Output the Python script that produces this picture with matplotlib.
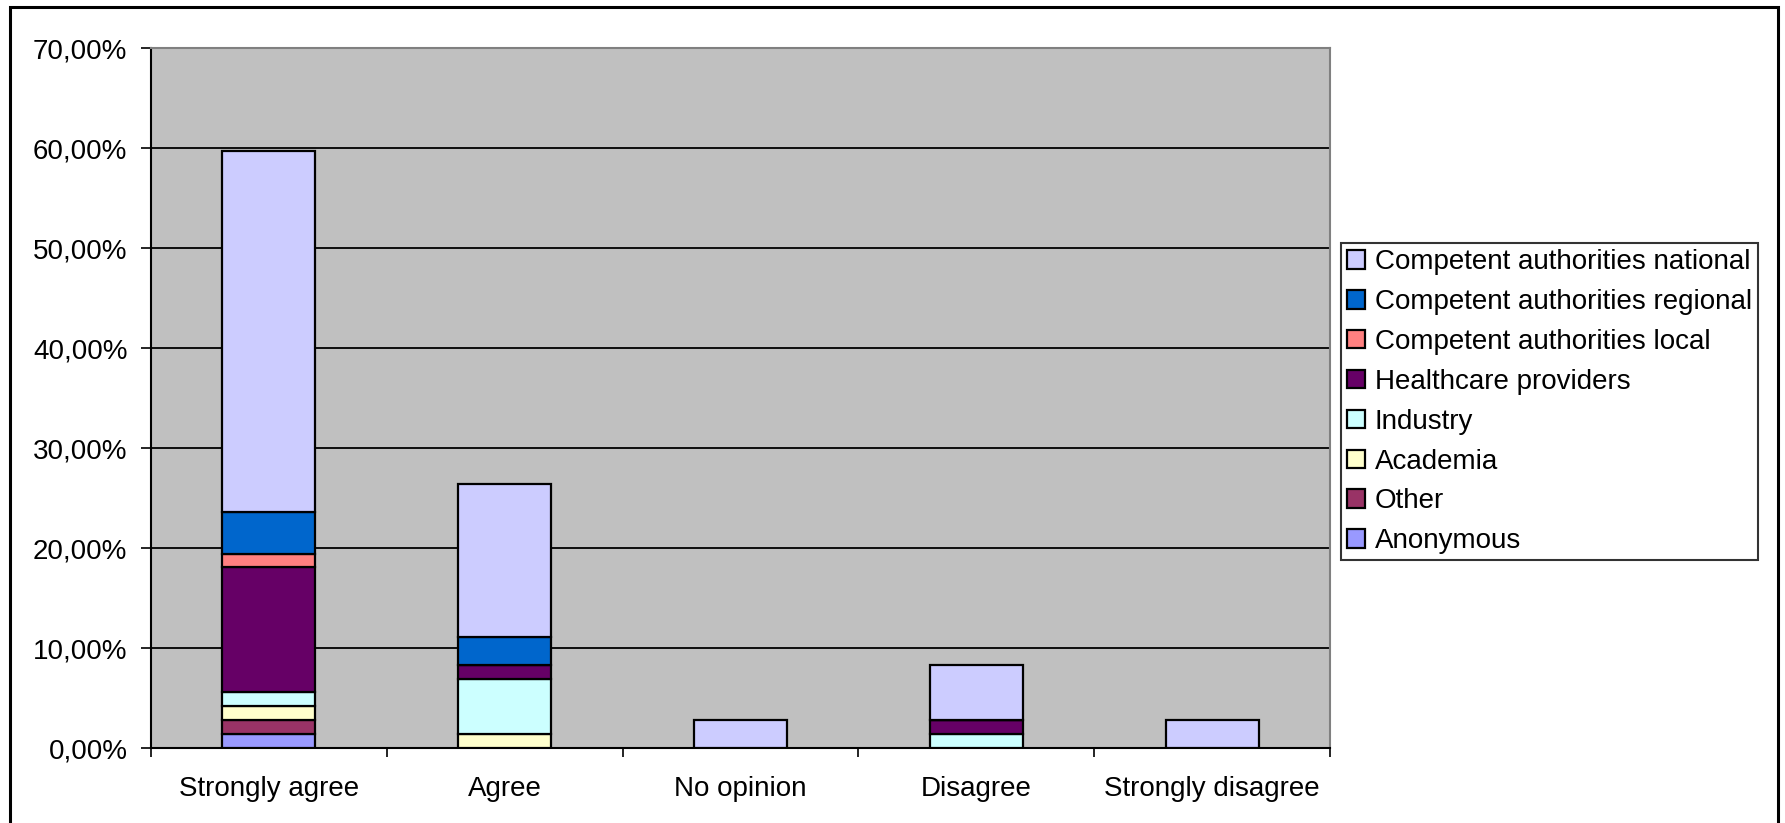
import numpy as np
import matplotlib.pyplot as plt
from matplotlib.patches import Rectangle

plt.rcParams['font.family'] = ['Liberation Sans', 'DejaVu Sans']

categories = ['Strongly agree', 'Agree', 'No opinion', 'Disagree', 'Strongly disagree']

# share of answers (%) per respondent group, bottom of the stack first
anonymous = [1.39, 0.00, 0.00, 0.00, 0.00]
other = [1.39, 0.00, 0.00, 0.00, 0.00]
academia = [1.39, 1.39, 0.00, 0.00, 0.00]
industry = [1.39, 5.56, 0.00, 1.39, 0.00]
healthcare = [12.50, 1.39, 0.00, 1.39, 0.00]
ca_local = [1.39, 0.00, 0.00, 0.00, 0.00]
ca_regional = [4.17, 2.78, 0.00, 0.00, 0.00]
ca_national = [36.11, 15.28, 2.78, 5.56, 2.78]

series = [('Anonymous', anonymous, '#9999FF'),
          ('Other', other, '#993366'),
          ('Academia', academia, '#FFFFCC'),
          ('Industry', industry, '#CCFFFF'),
          ('Healthcare providers', healthcare, '#660066'),
          ('Competent authorities local', ca_local, '#FF8080'),
          ('Competent authorities regional', ca_regional, '#0066CC'),
          ('Competent authorities national', ca_national, '#CCCCFF')]

yticks = [0, 10, 20, 30, 40, 50, 60, 70]

fig = plt.figure(figsize=(17.85, 8.23), dpi=100)
ax = fig.add_axes([151/1785, 75/823, (1330-151)/1785, (748-48)/823])
ax.set_facecolor('#C0C0C0')

x = np.arange(len(categories))
bottom = np.zeros(len(categories))
handles = []
for name, vals, col in series:
    vals = np.array(vals)
    b = ax.bar(x, vals, 0.395, bottom=bottom, color=col, edgecolor='black',
               linewidth=1.6, label=name, zorder=3)
    bottom += vals
    handles.append(b)

ax.set_xlim(-0.5, len(categories) - 0.5)
ax.set_ylim(0, 70)
ax.set_yticks(yticks)
ax.set_yticklabels(['{:.2f}%'.format(v).replace('.', ',') for v in yticks])
ax.yaxis.grid(True, color='black', linewidth=1.3, zorder=1)
ax.set_axisbelow(True)

# ticks between categories, labels centred without ticks
ax.set_xticks(np.arange(-0.5, len(categories), 1.0))
ax.set_xticklabels([])
ax.set_xticks(x, minor=True)
ax.set_xticklabels(categories, minor=True)
ax.tick_params(axis='x', which='major', length=6.5, width=1.2, direction='out')
ax.tick_params(axis='x', which='minor', length=0, pad=20)
ax.tick_params(axis='y', length=7, width=1.2, direction='out', pad=10)
ax.tick_params(which='both', labelsize=20)

for s in ['left', 'bottom']:
    ax.spines[s].set_color('black')
    ax.spines[s].set_linewidth(1.5)
for s in ['top', 'right']:
    ax.spines[s].set_color('#808080')
    ax.spines[s].set_linewidth(1.5)

leg = fig.legend(handles[::-1], [s[0] for s in series][::-1],
                 loc='upper left', bbox_to_anchor=(1341/1785, 1 - 243/823),
                 fontsize=20, frameon=True, fancybox=False, edgecolor='black',
                 handlelength=0.65, handleheight=0.65, handletextpad=0.35,
                 labelspacing=0.5, borderpad=0.22, borderaxespad=0)
leg.get_frame().set_linewidth(1.5)

# outer chart border (bottom edge falls outside the picture)
fig.patches.append(Rectangle((10/1785, -0.1), (1778-10)/1785, 1.1 - 7/823,
                             transform=fig.transFigure, fill=False,
                             edgecolor='black', linewidth=2.2))

fig.savefig('out.png', dpi=100)
